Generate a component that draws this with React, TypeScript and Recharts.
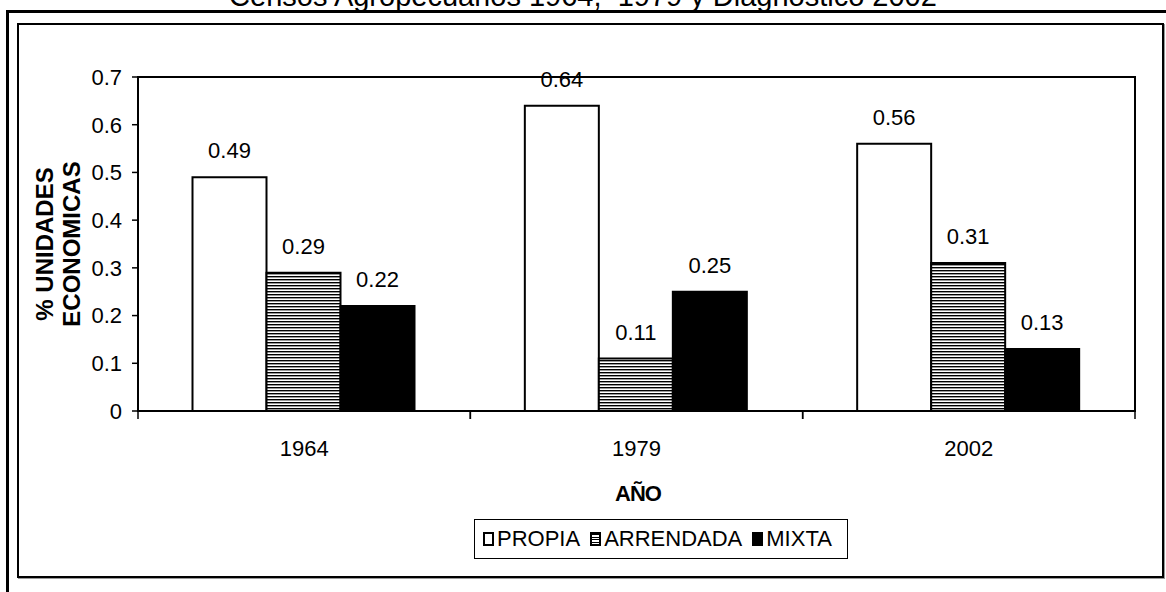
import React from "react";
import { BarChart, Bar, XAxis, YAxis, LabelList, Legend, ReferenceArea } from "recharts";

const years = ["1964", "1979", "2002"];
const propia = [0.49, 0.64, 0.56];
const arrendada = [0.29, 0.11, 0.31];
const mixta = [0.22, 0.25, 0.13];
const yTicks = [0, 0.1, 0.2, 0.3, 0.4, 0.5, 0.6, 0.7];
const seriesNames = ["PROPIA", "ARRENDADA", "MIXTA"];

const data = years.map((year, i) => ({
  year,
  PROPIA: propia[i],
  ARRENDADA: arrendada[i],
  MIXTA: mixta[i],
}));

const W = 1166;
const H = 592;
const M = { top: 77, right: 31, bottom: 121, left: 0 };
const Y_W = 138;
const X_H = 60;
const BAND = (W - M.left - M.right - Y_W) / years.length;
const FONT = "'Liberation Sans', Arial, sans-serif";

const stripes = "repeating-linear-gradient(to bottom, #000 0px, #000 1px, #fff 1px, #fff 2.5px)";
const iconBg = ["#fff", stripes, "#000"];

// category ticks sit on the band edges, labels in the middle
const XTick = ({ x, y, payload }: any) => (
  <g>
    <line x1={x - BAND / 2} y1={y} x2={x - BAND / 2} y2={y + 8} stroke="#000" strokeWidth={1.5} />
    <line x1={x + BAND / 2} y1={y} x2={x + BAND / 2} y2={y + 8} stroke="#000" strokeWidth={1.5} />
    <text x={x} y={y + 45} textAnchor="middle" fontSize={22} fontFamily={FONT} fill="#000">
      {payload.value}
    </text>
  </g>
);

const YTitle = () => (
  <g fontFamily={FONT} fontWeight="bold" fontSize={24} fill="#000">
    <text transform="translate(53,244) rotate(-90)" textAnchor="middle">% UNIDADES</text>
    <text transform="translate(80,244) rotate(-90)" textAnchor="middle">ECONOMICAS</text>
  </g>
);

const XTitle = () => (
  <text x={638} y={501} textAnchor="middle" fontFamily={FONT} fontWeight="bold" fontSize={22} letterSpacing={-1} fill="#000">
    AÑO
  </text>
);

const LegendBox = () => (
  <div
    style={{
      border: "1px solid #000",
      height: 40,
      boxSizing: "border-box",
      display: "flex",
      alignItems: "center",
      paddingLeft: 8,
      fontFamily: FONT,
      fontSize: 22,
      color: "#000",
      background: "#fff",
    }}
  >
    {seriesNames.map((name, i) => (
      <span key={name} style={{ display: "flex", alignItems: "center", marginRight: 10 }}>
        <span
          style={{
            width: 11,
            height: 14,
            boxSizing: "border-box",
            border: "2px solid #000",
            background: iconBg[i],
            marginRight: 3,
          }}
        />
        {name}
      </span>
    ))}
  </div>
);

const labelProps = { position: "top" as const, offset: 19, fontSize: 22, fontFamily: FONT, fill: "#000" };

export default function App() {
  return (
    <div style={{ position: "absolute", left: 0, top: 0, width: W, height: H, overflow: "hidden", background: "#fff" }}>
      <div style={{ position: "absolute", left: 6, top: 10, width: W + 20, height: H + 20, border: "3px solid #000" }} />
      <div
        style={{
          position: "absolute",
          left: 17,
          top: 23,
          width: 1147,
          height: 555,
          boxSizing: "border-box",
          border: "2px solid #000",
          boxShadow: "1px 1px 0 #999",
        }}
      />
      <div
        style={{
          position: "absolute",
          left: 0,
          top: -18,
          width: W,
          textAlign: "center",
          fontFamily: FONT,
          fontSize: 29,
          lineHeight: "29px",
          color: "#000",
          whiteSpace: "pre",
        }}
      >
        {"Censos Agropecuarios 1964,  1979 y Diagnostico 2002"}
      </div>
      <div style={{ position: "absolute", left: 0, top: 0 }}>
        <BarChart width={W} height={H} data={data} margin={M} barCategoryGap="16.4%" barGap={0}>
          <defs>
            <pattern id="hlines" width="4" height="3" patternUnits="userSpaceOnUse">
              <rect x="0" y="0" width="4" height="3" fill="#fff" />
              <rect x="0" y="0" width="4" height="1.4" fill="#000" />
            </pattern>
          </defs>
          <XAxis
            dataKey="year"
            height={X_H}
            tick={XTick}
            tickLine={false}
            tickSize={0}
            tickMargin={0}
            interval={0}
            axisLine={{ stroke: "#000", strokeWidth: 2 }}
            label={{ content: XTitle }}
          />
          <YAxis
            width={Y_W}
            domain={[0, 0.7]}
            ticks={yTicks}
            interval={0}
            tick={{ fontSize: 22, fontFamily: FONT, fill: "#000" }}
            tickLine={{ stroke: "#000", strokeWidth: 1.5 }}
            tickSize={6}
            tickMargin={10}
            axisLine={{ stroke: "#000", strokeWidth: 2 }}
            label={{ content: YTitle }}
          />
          <ReferenceArea y1={0} y2={0.7} fill="none" fillOpacity={0} stroke="#000" strokeWidth={2} />
          <Bar dataKey="PROPIA" fill="#fff" stroke="#000" strokeWidth={2} isAnimationActive={false}>
            <LabelList dataKey="PROPIA" {...labelProps} />
          </Bar>
          <Bar dataKey="ARRENDADA" fill="url(#hlines)" stroke="#000" strokeWidth={2} isAnimationActive={false}>
            <LabelList dataKey="ARRENDADA" {...labelProps} />
          </Bar>
          <Bar dataKey="MIXTA" fill="#000" stroke="#000" strokeWidth={2} isAnimationActive={false}>
            <LabelList dataKey="MIXTA" {...labelProps} />
          </Bar>
          <Legend
            layout="horizontal"
            verticalAlign="middle"
            align="center"
            content={LegendBox}
            wrapperStyle={{ left: 474, top: 519, width: 374, height: 40 }}
          />
        </BarChart>
      </div>
    </div>
  );
}
